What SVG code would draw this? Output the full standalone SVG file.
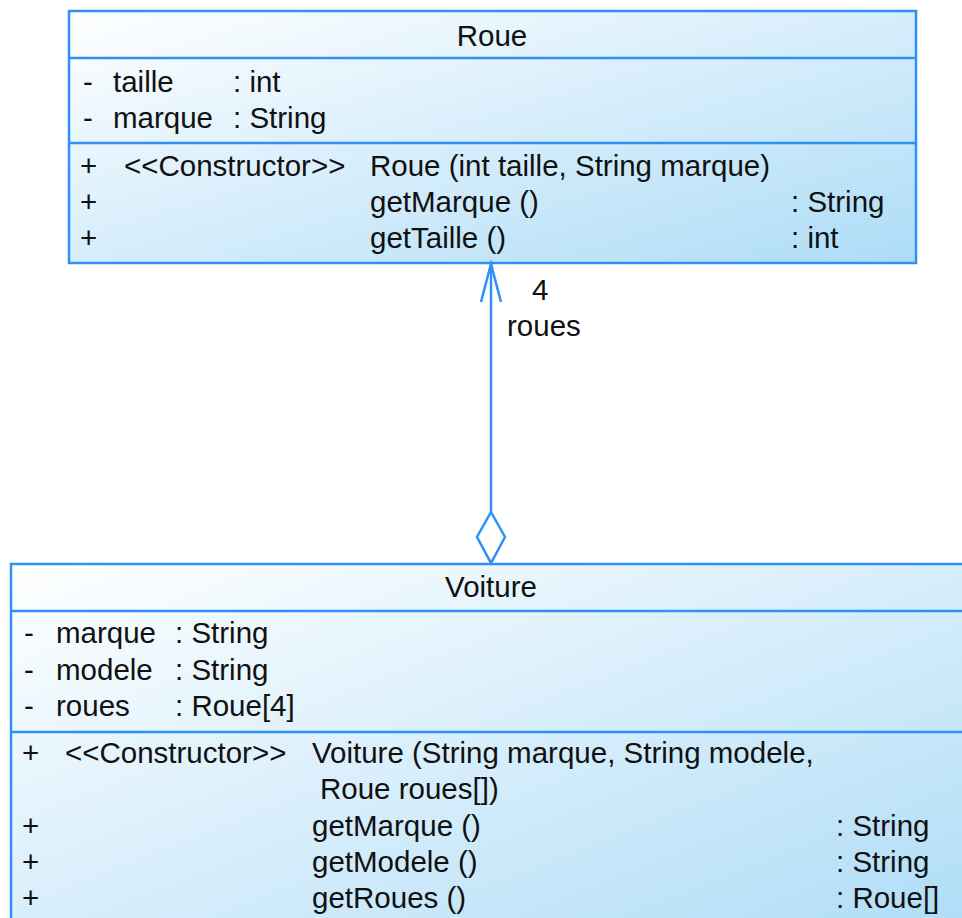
<svg xmlns="http://www.w3.org/2000/svg" width="962" height="918" viewBox="0 0 962 918">
<defs>
<linearGradient id="g" x1="0" y1="0" x2="1" y2="1">
<stop offset="0" stop-color="#ffffff"/>
<stop offset="1" stop-color="#addcf7"/>
</linearGradient>
<style>
.box{fill:url(#g);stroke:#2f90f5;stroke-width:2.5}
.sep{stroke:#2f90f5;stroke-width:2.5}
text{font-family:"Liberation Sans",Arial,sans-serif;font-size:29.5px;fill:#111}
.c{text-anchor:middle}
.conn{stroke:#2f90f5;stroke-width:2.5;fill:none}
</style>
</defs>
<rect width="962" height="918" fill="#ffffff"/>
<g id="Roue">
<rect class="box" x="69" y="11" width="847" height="252"/>
<line class="sep" x1="69" y1="58" x2="916" y2="58"/>
<line class="sep" x1="69" y1="143" x2="916" y2="143"/>
<text class="c" x="492" y="46">Roue</text>
<text x="83" y="92">-</text><text x="113" y="92">taille</text><text x="233" y="92">: int</text>
<text x="83" y="128">-</text><text x="113" y="128">marque</text><text x="233" y="128">: String</text>
<text x="80" y="176">+</text><text x="124" y="176">&lt;&lt;Constructor&gt;&gt;</text><text x="370" y="176">Roue (int taille, String marque)</text>
<text x="80" y="212">+</text><text x="370" y="212">getMarque ()</text><text x="791" y="212">: String</text>
<text x="80" y="248">+</text><text x="370" y="248">getTaille ()</text><text x="791" y="248">: int</text>
</g>
<g id="Voiture">
<rect class="box" x="11" y="564" width="970" height="380"/>
<line class="sep" x1="11" y1="611" x2="962" y2="611"/>
<line class="sep" x1="11" y1="732" x2="962" y2="732"/>
<text class="c" x="491" y="597">Voiture</text>
<text x="24" y="643">-</text><text x="56" y="643">marque</text><text x="175" y="643">: String</text>
<text x="24" y="680">-</text><text x="56" y="680">modele</text><text x="175" y="680">: String</text>
<text x="24" y="716">-</text><text x="56" y="716">roues</text><text x="175" y="716">: Roue[4]</text>
<text x="22" y="763">+</text><text x="65" y="763">&lt;&lt;Constructor&gt;&gt;</text><text x="312" y="763">Voiture (String marque, String modele,</text>
<text x="320" y="799">Roue roues[])</text>
<text x="22" y="836">+</text><text x="312" y="836">getMarque ()</text><text x="836" y="836">: String</text>
<text x="22" y="872">+</text><text x="312" y="872">getModele ()</text><text x="836" y="872">: String</text>
<text x="22" y="908">+</text><text x="312" y="908">getRoues ()</text><text x="836" y="908">: Roue[]</text>
</g>
<g id="connectors">
<line class="conn" x1="491" y1="264" x2="491" y2="512"/>
<polyline class="conn" points="481,302 491,264 501,302"/>
<polygon class="conn" points="491,512 505,537 491,563 477,537"/>
<text x="532" y="300">4</text>
<text x="507" y="336">roues</text>
</g>
</svg>
